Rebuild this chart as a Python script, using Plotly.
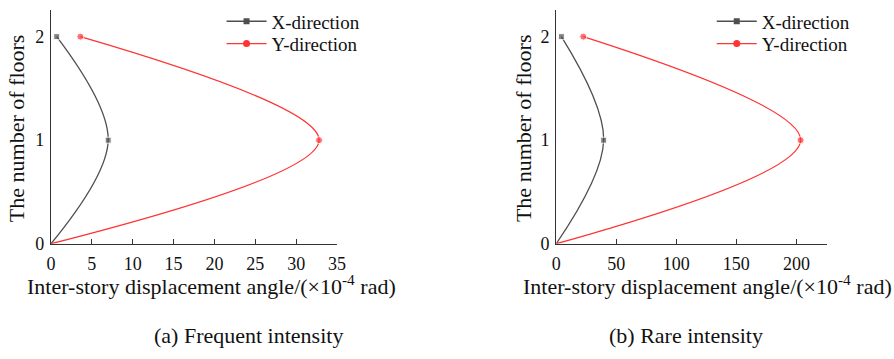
import plotly.graph_objects as go

# Storey drift profiles (×10^-4 rad) per floor level
floors = [0, 1, 2]
freq_x = [0, 7.0, 0.7]
freq_y = [0, 32.8, 3.6]
rare_x = [0, 39.5, 4.3]
rare_y = [0, 203.5, 22.5]

x_ticks_freq = [0, 5, 10, 15, 20, 25, 30, 35]
x_ticks_rare = [0, 50, 100, 150, 200]
y_ticks = [0, 1, 2]

series_names = ["X-direction", "Y-direction"]
captions = ["(a) Frequent intensity", "(b) Rare intensity"]
x_title = "Inter-story displacement angle/(×10<sup>-4</sup> rad)"
y_title = "The number of floors"

FONT = "Liberation Serif"
GRAY = "#4f4f4f"
RED = "#ff3434"
W, H = 894, 359

fig = go.Figure()

# one single-entry legend per series and panel so each row sits where wanted
panels = [
    (freq_x, freq_y, "x", "y", ("legend", "legend2")),
    (rare_x, rare_y, "x2", "y2", ("legend3", "legend4")),
]
for xs_x, xs_y, xa, ya, legs in panels:
    for vals, name, color, symbol, msize, leg in [
        (xs_x, series_names[0], GRAY, "square", 6, legs[0]),
        (xs_y, series_names[1], RED, "circle", 7, legs[1]),
    ]:
        # profile curve; no marker drawn at the ground level
        sizes = [0 if f == 0 else msize for f in floors]
        fig.add_trace(go.Scatter(
            x=vals, y=floors, xaxis=xa, yaxis=ya,
            mode="lines+markers", line=dict(color=color, width=1.3, shape="spline"),
            marker=dict(color=color, symbol=symbol, size=sizes),
            showlegend=False, cliponaxis=False,
        ))
        # legend entry
        fig.add_trace(go.Scatter(
            x=[None], y=[None], xaxis=xa, yaxis=ya, name=name,
            mode="lines+markers", line=dict(color=color, width=1.3),
            marker=dict(color=color, symbol=symbol, size=msize),
            legend=leg,
        ))

def px_x(v):
    return v / W

def px_y(v):
    return 1 - v / H

y_dom = [px_y(250.7), px_y(10)]
axis_common = dict(
    showline=True, linecolor="#333333", linewidth=1.3, showgrid=False, zeroline=False,
    tickfont=dict(family=FONT, size=18, color="#111111"),
)

legend_common = dict(xanchor="left", yanchor="middle", bgcolor="rgba(0,0,0,0)",
                     font=dict(family=FONT, size=19), itemwidth=40)

fig.update_layout(
    width=W, height=H, margin=dict(l=0, r=0, t=0, b=0),
    paper_bgcolor="white", plot_bgcolor="white",
    font=dict(family=FONT, color="#111111"),
    xaxis=dict(domain=[px_x(46.7), px_x(337.3)], range=[0, 35], tickvals=x_ticks_freq,
               ticks="inside", ticklen=5, tickcolor="#333333", anchor="y",
               ticklabelstandoff=4, **axis_common),
    yaxis=dict(domain=y_dom, range=[0, 2.26], tickvals=y_ticks, ticks="", anchor="x",
               ticklabelstandoff=2, **axis_common),
    xaxis2=dict(domain=[px_x(560), px_x(835)], range=[0, 225.4], tickvals=x_ticks_rare,
                ticks="inside", ticklen=5, tickcolor="#333333", anchor="y2",
                ticklabelstandoff=4, **axis_common),
    yaxis2=dict(domain=y_dom, range=[0, 2.26], tickvals=y_ticks, ticks="", anchor="x2",
                ticklabelstandoff=2, **axis_common),
    legend=dict(x=px_x(220), y=px_y(22), **legend_common),
    legend2=dict(x=px_x(220), y=px_y(45), **legend_common),
    legend3=dict(x=px_x(718), y=px_y(22), **legend_common),
    legend4=dict(x=px_x(718), y=px_y(45), **legend_common),
)

annotations = []
for cx, text in [(210, x_title), (713.5, x_title)]:
    annotations.append(dict(x=px_x(cx), y=px_y(293), xref="paper", yref="paper",
                            text=text, showarrow=False, xanchor="center", yanchor="middle",
                            font=dict(family=FONT, size=22, color="#111111")))
for cx, text in [(247, captions[0]), (692, captions[1])]:
    annotations.append(dict(x=px_x(cx), y=px_y(345), xref="paper", yref="paper",
                            text=text, showarrow=False, xanchor="center", yanchor="middle",
                            font=dict(family=FONT, size=22, color="#111111")))
for cx in [12, 527]:
    annotations.append(dict(x=px_x(cx), y=px_y(132), xref="paper", yref="paper",
                            text=y_title, textangle=-90, showarrow=False,
                            xanchor="center", yanchor="middle",
                            font=dict(family=FONT, size=22, color="#111111")))
fig.update_layout(annotations=annotations)

fig.write_html("out.html")
